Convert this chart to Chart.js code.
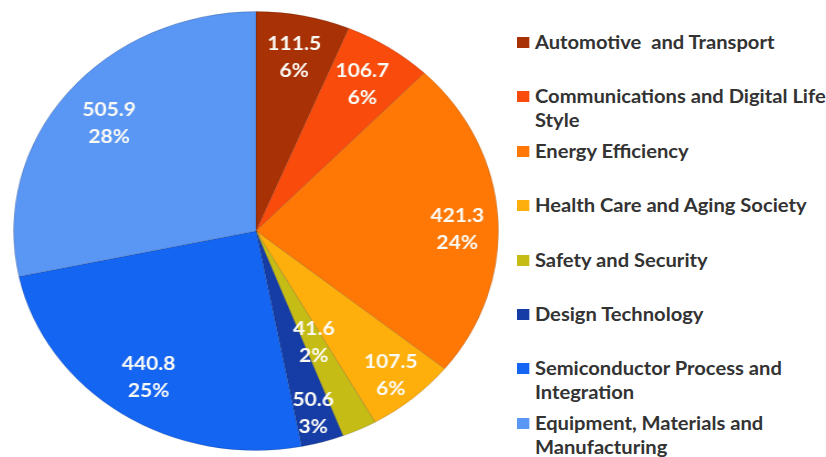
<!DOCTYPE html>
<html>
<head>
<meta charset="utf-8">
<script src="https://cdn.jsdelivr.net/npm/chart.js@4.4.1/dist/chart.umd.min.js"></script>
<style>
  body { margin: 0; background: #fff; }
  #wrap { position: relative; width: 826px; height: 457px; overflow: hidden; }
  /* pie is drawn as a circle, then stretched sideways like the original */
  #pieBox { position: absolute; left: 13px; top: 11px; width: 440px; height: 440px;
            transform: scaleX(1.1045); transform-origin: left top; }
  #legend { position: absolute; left: 517px; top: 30px; width: 282px;
            transform: scaleX(1.12); transform-origin: left top; }
  .item { position: relative; height: 54.4px; padding-left: 16px;
          font: bold 18px Lato, sans-serif; line-height: 24px; color: #333; }
  .box { position: absolute; left: 0; top: 7px; width: 11px; height: 11px; }
</style>
</head>
<body>
<div id="wrap">
  <div id="pieBox"><canvas id="pieChart"></canvas></div>
  <div id="legend"></div>
</div>
<script>
const categories = [
  "Automotive  and Transport",
  "Communications and Digital Life Style",
  "Energy Efficiency",
  "Health Care and Aging Society",
  "Safety and Security",
  "Design Technology",
  "Semiconductor Process and Integration",
  "Equipment, Materials and Manufacturing"
];
const values = [111.5, 106.7, 421.3, 107.5, 41.6, 50.6, 440.8, 505.9];
const percentLabels = ["6%", "6%", "24%", "6%", "2%", "3%", "25%", "28%"];

const colors = ["#A93106", "#F84B0C", "#FF7806", "#FFAF0C", "#C6BC16", "#163DA6", "#1565F3", "#5A96F4"];
// how far out each value label sits, as a share of the radius
const labelRadius = [0.81, 0.8, 0.83, 0.86, 0.56, 0.86, 0.8, 0.78];
// small turn (degrees, clockwise) for labels Excel nudged off the middle
const labelTurn = [0, 0, 3, 0, 0, 0, 0, 0];

const sliceLabels = {
  id: "sliceLabels",
  afterDatasetsDraw(chart) {
    const ctx = chart.ctx;
    const meta = chart.getDatasetMeta(0);
    ctx.save();
    ctx.fillStyle = "#fbfbf6";
    ctx.font = "bold 19px Lato, sans-serif";
    ctx.textAlign = "center";
    ctx.textBaseline = "middle";
    meta.data.forEach((arc, i) => {
      const mid = (arc.startAngle + arc.endAngle) / 2 + labelTurn[i] * Math.PI / 180;
      const r = arc.outerRadius * labelRadius[i];
      const x = arc.x + Math.cos(mid) * r;
      const y = arc.y + Math.sin(mid) * r;
      ctx.fillText(values[i].toFixed(1), x, y - 13);
      ctx.fillText(percentLabels[i], x, y + 14);
    });
    ctx.restore();
  }
};

const chart = new Chart(document.getElementById("pieChart"), {
  type: "pie",
  data: {
    labels: categories,
    datasets: [{
      data: values,
      backgroundColor: colors,
      borderColor: "rgba(0,0,0,0.15)",
      borderWidth: 1
    }]
  },
  options: {
    responsive: true,
    maintainAspectRatio: false,
    animation: false,
    layout: { padding: 0 },
    plugins: {
      legend: { display: false },
      tooltip: { enabled: false }
    }
  },
  plugins: [sliceLabels]
});

// html legend from the chart's own labels and colours
const legendEl = document.getElementById("legend");
chart.data.labels.forEach((label, i) => {
  const item = document.createElement("div");
  item.className = "item";
  item.innerHTML = '<span class="box" style="background:' + colors[i] + '"></span>' +
    label.replace(/  /g, " &nbsp;");
  legendEl.appendChild(item);
});
</script>
</body>
</html>
